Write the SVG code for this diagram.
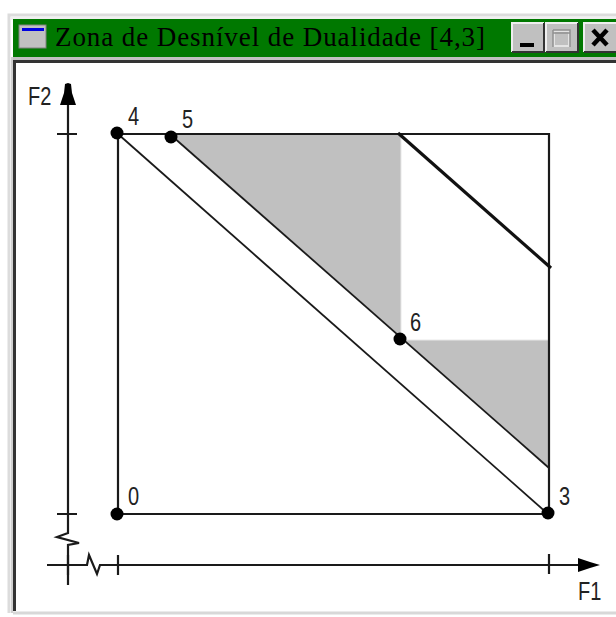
<svg xmlns="http://www.w3.org/2000/svg" width="616" height="617" viewBox="0 0 616 617">
<style>
.l{fill:none;stroke:#1a1a1a;stroke-width:2.2}
.t{fill:none;stroke:#1a1a1a;stroke-width:1.8}
.d{fill:#000}
.n{font-family:"Liberation Sans",Arial,sans-serif;font-size:25px;fill:#222}
</style>
<rect width="616" height="617" fill="#fff"/>
<g id="window">
<path d="M9 613V15H616" fill="none" stroke="#dcdcdc" stroke-width="3"/>
<path d="M13 613H616" stroke="#d8d8d8" stroke-width="3" fill="none"/>
<rect x="11" y="17" width="605" height="3" fill="#f0f0f0"/>
<rect x="13" y="19" width="603" height="38" fill="#007800"/>
<rect x="13" y="57" width="603" height="3" fill="#c0c0c0"/>
<rect x="13" y="60" width="603" height="3" fill="#333"/>
<rect x="13" y="60" width="3" height="551" fill="#333"/>
<rect x="11" y="57" width="2" height="556" fill="#d0d0d0"/>
<rect x="19" y="25" width="27" height="23" fill="#c0c0c0" stroke="#808080"/>
<rect x="22" y="28" width="22" height="3" fill="#0000e0"/>
<text x="55" y="46" font-family="'Liberation Serif','Times New Roman',serif" font-size="27" textLength="430" lengthAdjust="spacing" fill="#000">Zona de Desnível de Dualidade [4,3]</text>
<g id="btn-min"><rect x="512" y="23" width="32" height="29" fill="#c0c0c0"/><path d="M512 52V23H544" stroke="#eee" stroke-width="2" fill="none"/><path d="M512 52H544V23" stroke="#333" stroke-width="2" fill="none"/><rect x="520" y="43" width="14" height="4" fill="#000"/></g>
<g id="btn-max"><rect x="546" y="23" width="32" height="29" fill="#c0c0c0"/><path d="M546 52V23H578" stroke="#eee" stroke-width="2" fill="none"/><path d="M546 52H578V23" stroke="#333" stroke-width="2" fill="none"/><rect x="554" y="31" width="15" height="15" fill="none" stroke="#e4e4e4" stroke-width="2"/><path d="M553 33H570M553 30H570V47M553 30V47" fill="none" stroke="#909090" stroke-width="1.5"/></g>
<g id="btn-close"><rect x="584" y="23" width="32" height="29" fill="#c0c0c0"/><path d="M584 52V23H616" stroke="#eee" stroke-width="2" fill="none"/><path d="M584 52H616" stroke="#333" stroke-width="2" fill="none"/><path d="M593 30L607 45M607 30L593 45" stroke="#000" stroke-width="4.5" fill="none"/></g>
</g>
<g id="region"><path d="M172 135H401V340H549V468Z" fill="#c0c0c0"/><path d="M401 135V340H549" fill="none" stroke="#e8e8e8" stroke-width="1"/></g>
<g id="connectors">
<path class="l" d="M118 134H549V514H118Z"/>
<path class="t" d="M118 134L548 514"/>
<path class="t" d="M172 136L549 468"/>
<path d="M398 133L551 268" fill="none" stroke="#111" stroke-width="3.2"/>
<path class="l" d="M68 100V533L57 537L79 543L68 545V585"/>
<path class="l" d="M47 565H87L89 555L97 574L100 565H585"/>
<path class="l" d="M57 134H77M57 514H77M118 555V575M549 554V574M68 555V575"/>
<path class="d" d="M68 83L71 84L72 93L76 105H60L64 93L65 84Z"/>
<path class="d" d="M600 565L590 562L578 558V572L590 568Z"/>
</g>
<g id="node-4"><circle class="d" cx="117" cy="133" r="6.5"/><text class="n" transform="translate(128 125) scale(.8 1)">4</text></g>
<g id="node-5"><circle class="d" cx="171" cy="137" r="6.5"/><text class="n" transform="translate(182 128) scale(.8 1)">5</text></g>
<g id="node-6"><circle class="d" cx="400" cy="339" r="6.5"/><text class="n" transform="translate(410 331) scale(.8 1)">6</text></g>
<g id="node-0"><circle class="d" cx="117" cy="514" r="6.5"/><text class="n" transform="translate(128 505) scale(.8 1)">0</text></g>
<g id="node-3"><circle class="d" cx="548" cy="513" r="6.5"/><text class="n" transform="translate(559 505) scale(.8 1)">3</text></g>
<text class="n" transform="translate(28 105) scale(.8 1)">F2</text>
<text class="n" transform="translate(578 600) scale(.8 1)">F1</text>
</svg>
